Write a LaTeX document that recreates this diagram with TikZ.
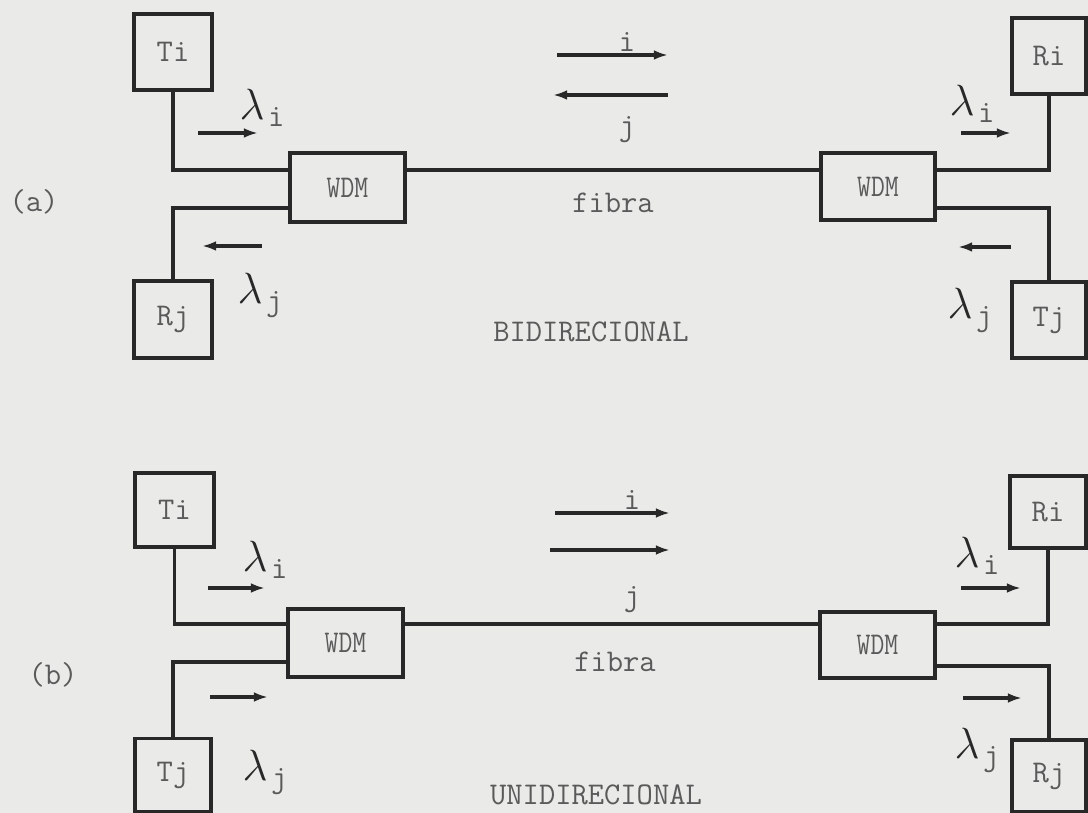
\documentclass[tikz,border=0pt]{standalone}
\usetikzlibrary{arrows.meta}
\definecolor{bg}{RGB}{234,234,232}
\definecolor{ink}{RGB}{40,40,40}
\definecolor{txt}{RGB}{90,90,90}
\tikzset{
  blk/.style={draw=ink, line width=2pt, fill=none, inner sep=0pt, text=txt,
    font=\ttfamily\fontsize{18}{20}\selectfont},
  wire/.style={draw=ink, line width=1.9pt},
  flow/.style={draw=ink, line width=1.9pt, -{Latex[length=8pt,width=5.5pt]}},
  lbl/.style={text=txt, font=\ttfamily\fontsize{18}{20}\selectfont, inner sep=0pt},
  lam/.style={text=ink, inner sep=0pt}
}
\newcommand{\lamsub}[1]{{\fontsize{24}{26}\selectfont$\lambda$}\hspace{2pt}\raisebox{-4pt}{\color{txt}\ttfamily\fontsize{18}{20}\selectfont #1}}
\newcommand{\wdmtext}{\scalebox{0.85}[1]{WDM}}
\begin{document}
\begin{tikzpicture}[x=0.02cm, y=-0.02cm]
\fill[bg] (0,0) rectangle (1088,813);
\useasboundingbox (0,0) rectangle (1088,813);

% ---------------- (a) ----------------
\node[blk, minimum width=78*0.02cm, minimum height=76*0.02cm] (TiA) at (173,52) {Ti};
\node[blk, minimum width=78*0.02cm, minimum height=77*0.02cm] (RjA) at (173,319.5) {Rj};
\node[blk, minimum width=115*0.02cm, minimum height=69*0.02cm] (WaL) at (347.5,187.5) {\wdmtext};
\node[blk, minimum width=114*0.02cm, minimum height=67*0.02cm] (WaR) at (878,186.5) {\wdmtext};
\node[blk, minimum width=74*0.02cm, minimum height=76*0.02cm] (RiA) at (1049,56) {Ri};
\node[blk, minimum width=74*0.02cm, minimum height=76*0.02cm] (TjA) at (1049,320) {Tj};

\coordinate (aL1) at (290,170);
\coordinate (aL2) at (290,208);
\coordinate (aR1) at (935,170);
\coordinate (aR2) at (935,208);

\draw[wire] (TiA.south) |- (aL1);
\draw[wire] (RjA.north) |- (aL2);
\draw[wire] (RiA.south) |- (aR1);
\draw[wire] (TjA.north) |- (aR2);
\draw[wire] (WaL.east |- aL1) -- (WaR.west |- aL1);

\node[lbl] (la) at (34,202) {(a)};

\draw[flow] (198,133) -- (258,133);
\draw[flow] (262,246) -- (202,246);
\draw[flow] (961,133) -- (1011,133);
\draw[flow] (1011,247) -- (958,247);

\node[lam] (lamAi) at (262,108) {\lamsub{i}};
\node[lam] (lamAj) at (260,295) {\lamsub{j}};
\node[lam] (lamAi2) at (972,104) {\lamsub{i}};
\node[lam] (lamAj2) at (970,310) {\lamsub{j}};

\draw[flow] (557,55) -- (668,55);
\draw[flow] (668,95) -- (553,95);
\node[lbl] (ai) at (627,42) {i};
\node[lbl] (aj) at (627,130) {j};
\node[lbl] (afib) at (613,203) {fibra};
\node[lbl] (abid) at (591,332) {BIDIRECIONAL};

% ---------------- (b) ----------------
\node[blk, minimum width=79*0.02cm, minimum height=74*0.02cm] (TiB) at (174.5,510) {Ti};
\node[blk, minimum width=76*0.02cm, minimum height=73*0.02cm] (TjB) at (173,775) {Tj};
\node[blk, minimum width=115*0.02cm, minimum height=68*0.02cm] (WbL) at (345.5,643) {\wdmtext};
\node[blk, minimum width=115*0.02cm, minimum height=66*0.02cm] (WbR) at (877.5,645) {\wdmtext};
\node[blk, minimum width=76*0.02cm, minimum height=72*0.02cm] (RiB) at (1048,512) {Ri};
\node[blk, minimum width=74*0.02cm, minimum height=72*0.02cm] (RjB) at (1049,776) {Rj};

\coordinate (bL1) at (288,624);
\coordinate (bL2) at (288,662);
\coordinate (bR1) at (935,624);
\coordinate (bR2) at (935,666);

\draw[wire] (TiB.south) |- (bL1);
\draw[wire] (TjB.north) |- (bL2);
\draw[wire] (RiB.south) |- (bR1);
\draw[wire] (RjB.north) |- (bR2);
\draw[wire] (WbL.east |- bL1) -- (WbR.west |- bL1);

\node[lbl] (lb) at (53,675) {(b)};

\draw[flow] (208,588) -- (265,588);
\draw[flow] (210,697) -- (268,697);
\draw[flow] (961,588) -- (1021,588);
\draw[flow] (963,698) -- (1022,698);

\node[lam] (lamBi) at (265,560) {\lamsub{i}};
\node[lam] (lamBj) at (265,772) {\lamsub{j}};
\node[lam] (lamBi2) at (977,556) {\lamsub{i}};
\node[lam] (lamBj2) at (977,750) {\lamsub{j}};

\draw[flow] (555,513) -- (670,513);
\draw[flow] (550,550) -- (670,550);
\node[lbl] (bi) at (632,500) {i};
\node[lbl] (bj) at (632,600) {j};
\node[lbl] (bfib) at (615,662) {fibra};
\node[lbl] (buni) at (596,795) {UNIDIRECIONAL};
\end{tikzpicture}
\end{document}
